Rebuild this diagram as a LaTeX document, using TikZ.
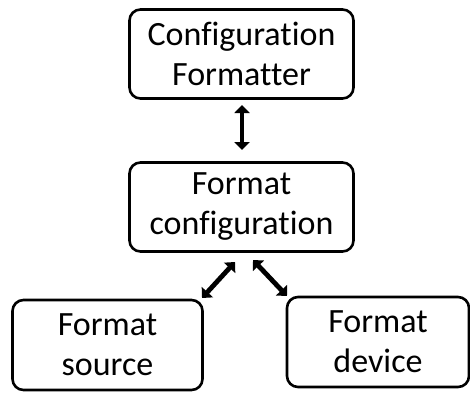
\documentclass[tikz,border=0pt]{standalone}
\usepackage{fontspec}
\setmainfont{Carlito}[Ligatures=NoCommon]
\usetikzlibrary{arrows.meta}
\begin{document}
\begin{tikzpicture}[x=1pt,y=-1pt,
  box/.style={draw, line width=2.6pt, rounded corners=11pt, align=center,
    inner sep=0pt, font=\fontsize{34}{40}\selectfont},
  link/.style={line width=4.8pt, {Triangle[length=8pt,width=15pt]}-{Triangle[length=8pt,width=15pt]}}]
\useasboundingbox (0,0) rectangle (470,392);
\node[box, minimum width=224pt, minimum height=89pt] (cf) at (241.5,54) {Configuration\\Formatter};
\node[box, minimum width=224pt, minimum height=89pt] (fc) at (241.5,207) {Format\\configuration};
\node[box, minimum width=190pt, minimum height=90pt] (fs) at (107.5,345) {Format\\source};
\node[box, minimum width=182pt, minimum height=90pt] (fd) at (378,342) {Format\\device};
\coordinate (a1) at (242,105);
\coordinate (a2) at (242,150);
\coordinate (b1) at (202,298);
\coordinate (b2) at (235,262);
\coordinate (c1) at (253,260);
\coordinate (c2) at (287,296);
\draw[link] (a1) -- (a2);
\draw[link] (b1) -- (b2);
\draw[link] (c1) -- (c2);
\end{tikzpicture}
\end{document}
